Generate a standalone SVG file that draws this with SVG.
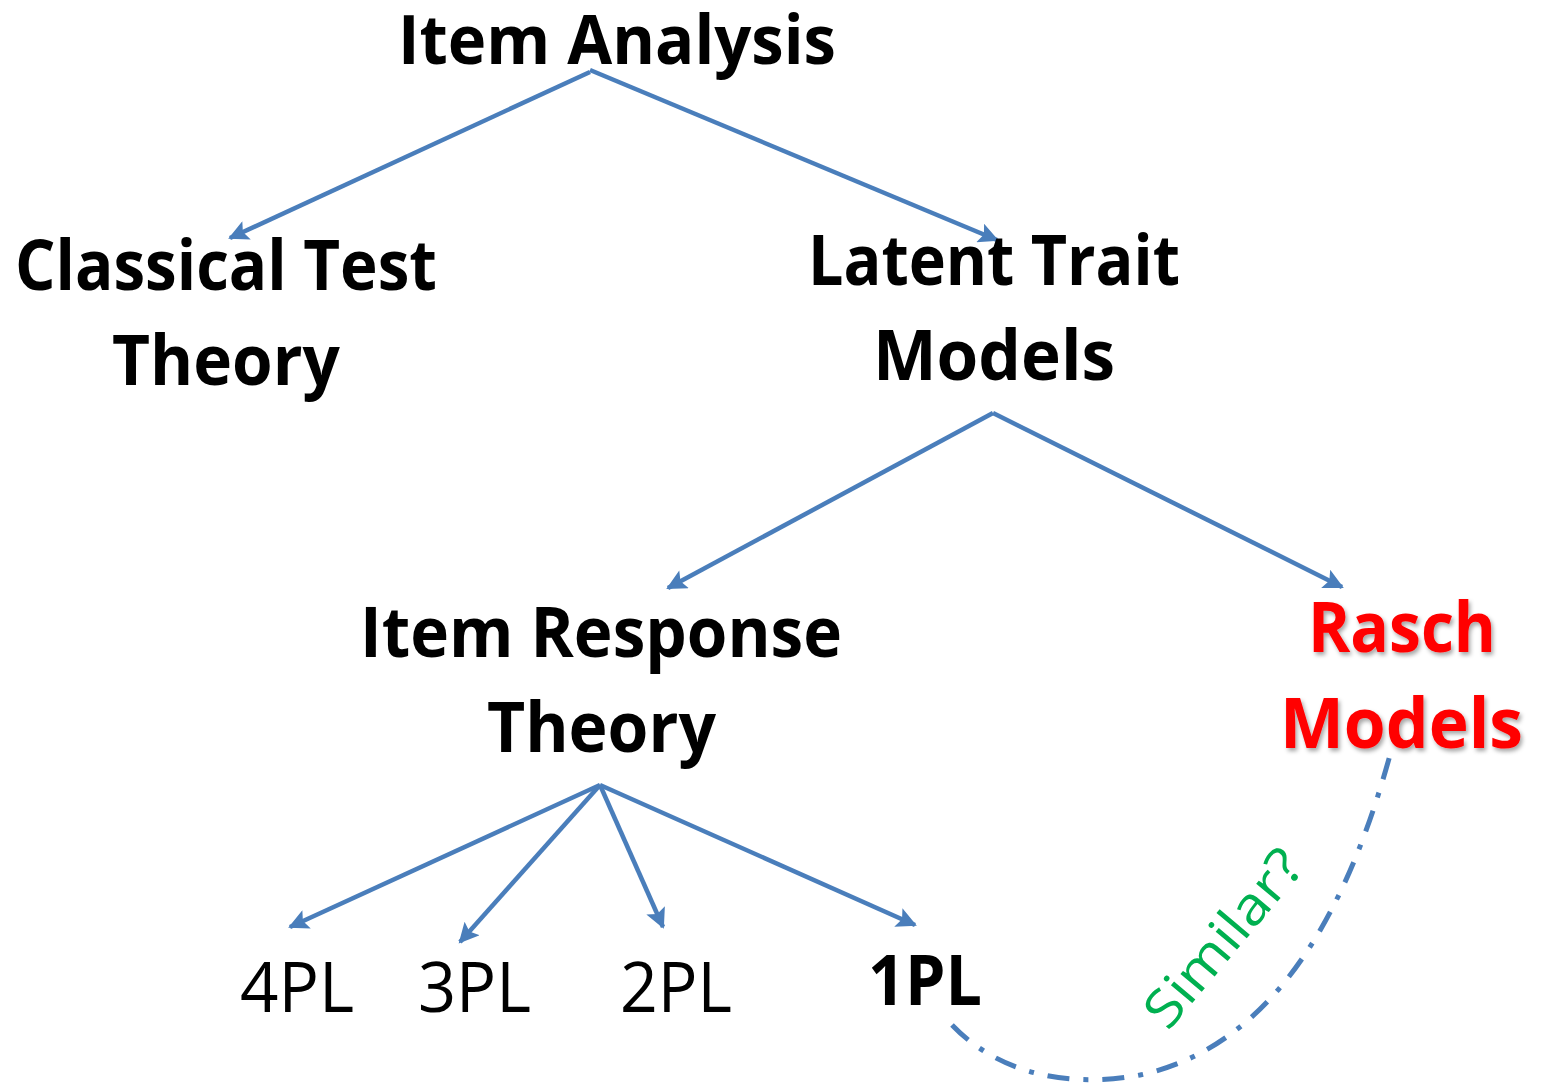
<svg xmlns="http://www.w3.org/2000/svg" width="1543" height="1085" viewBox="0 0 1543 1085">
<style>
.t{font-family:"Open Sans","Noto Sans","Liberation Sans",sans-serif;font-weight:bold;font-size:70px;fill:#000}
.r{font-weight:normal}
.red{fill:#ff0000}
.c{stroke:#4a7ebb;stroke-width:4.5;fill:none;marker-end:url(#ah)}
.sim{font-family:"Open Sans","Noto Sans","Liberation Sans",sans-serif;font-size:52px;fill:#00b050}
</style>
<defs>
<marker id="ah" viewBox="0 0 10 10" refX="9" refY="5" markerWidth="5" markerHeight="4.5" orient="auto" markerUnits="strokeWidth">
<path d="M0,0 L10,5 L0,10 L2,5 Z" fill="#4a7ebb"/>
</marker>
<filter id="sh" x="-10%" y="-10%" width="120%" height="130%">
<feDropShadow dx="2" dy="3" stdDeviation="2" flood-color="#000" flood-opacity="0.35"/>
</filter>
</defs>
<rect width="1543" height="1085" fill="#fff"/>
<g id="connectors">
<path class="c" d="M590,72 L230,238"/>
<path class="c" d="M590,70 L997,240"/>
<path class="c" d="M993,413 L668,588"/>
<path class="c" d="M993,413 L1342,587"/>
<path class="c" d="M600,785 L290,927"/>
<path class="c" d="M600,785 L460,942"/>
<path class="c" d="M600,785 L663,927"/>
<path class="c" d="M600,785 L915,925"/>
<path d="M952,1025 C1000,1075 1070,1088 1140,1075 C1280,1045 1350,900 1390,755" fill="none" stroke="#4a7ebb" stroke-width="5" stroke-dasharray="22 14 5 14"/>
</g>
<g id="item-analysis"><text class="t" style="font-size:68px" x="398" y="64" textLength="438" lengthAdjust="spacingAndGlyphs">Item Analysis</text></g>
<g id="classical"><text class="t" x="15" y="290" textLength="422" lengthAdjust="spacingAndGlyphs">Classical Test</text><text class="t" x="112" y="385" textLength="228" lengthAdjust="spacingAndGlyphs">Theory</text></g>
<g id="latent"><text class="t" x="808" y="285" textLength="372" lengthAdjust="spacingAndGlyphs">Latent Trait</text><text class="t" x="873" y="380" textLength="242" lengthAdjust="spacingAndGlyphs">Models</text></g>
<g id="irt"><text class="t" x="360" y="657" textLength="482" lengthAdjust="spacingAndGlyphs">Item Response</text><text class="t" x="487" y="752" textLength="229" lengthAdjust="spacingAndGlyphs">Theory</text></g>
<g id="rasch" filter="url(#sh)"><text class="t red" x="1308" y="652" textLength="188" lengthAdjust="spacingAndGlyphs">Rasch</text><text class="t red" x="1280" y="748" textLength="243" lengthAdjust="spacingAndGlyphs">Models</text></g>
<g id="pl4"><text class="t r" x="240" y="1012" textLength="114" lengthAdjust="spacingAndGlyphs">4PL</text></g>
<g id="pl3"><text class="t r" x="418" y="1012" textLength="113" lengthAdjust="spacingAndGlyphs">3PL</text></g>
<g id="pl2"><text class="t r" x="620" y="1012" textLength="112" lengthAdjust="spacingAndGlyphs">2PL</text></g>
<g id="pl1"><text class="t" x="868" y="1005" textLength="114" lengthAdjust="spacingAndGlyphs">1PL</text></g>
<g id="similar"><text class="sim" transform="translate(1168,1032) rotate(-50)" textLength="215" lengthAdjust="spacingAndGlyphs">Similar?</text></g>
</svg>
